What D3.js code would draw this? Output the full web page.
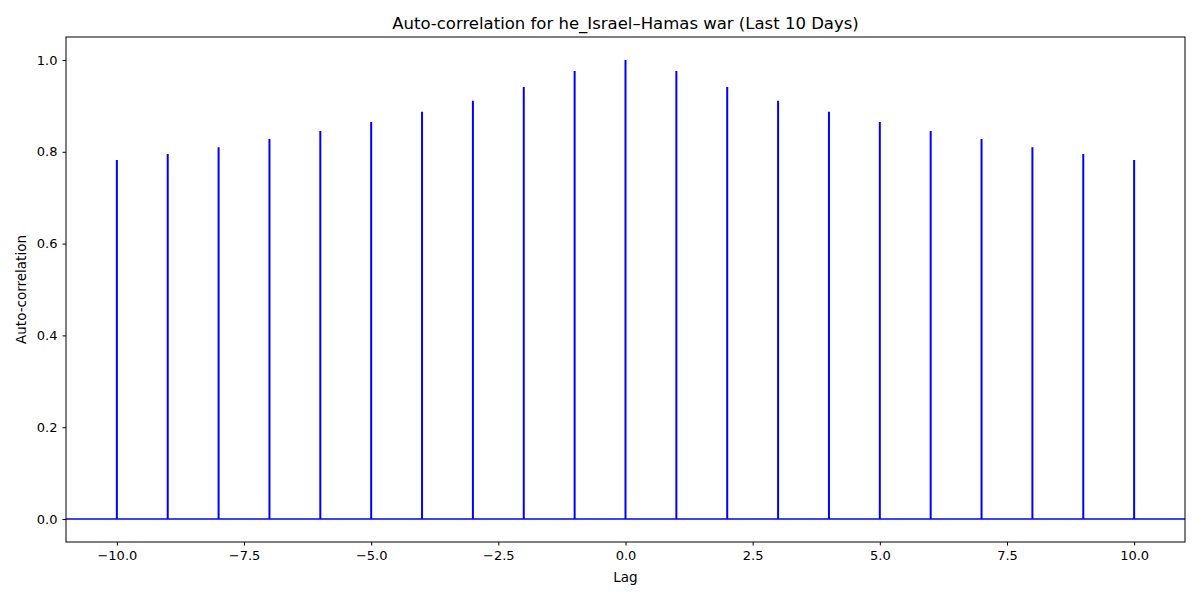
<!DOCTYPE html>
<html><head><meta charset="utf-8">
<script src="https://cdn.jsdelivr.net/npm/d3@7"></script>
<style>body{margin:0;background:#fff}text{font-family:"DejaVu Sans",sans-serif}</style>
</head><body><svg id="c" width="1200" height="600"></svg>
<script>
const lags = [-10,-9,-8,-7,-6,-5,-4,-3,-2,-1,0,1,2,3,4,5,6,7,8,9,10];
const acorr = [0.782,0.795,0.810,0.828,0.845,0.865,0.887,0.911,0.941,0.976,1.0,0.976,0.941,0.911,0.887,0.865,0.845,0.828,0.810,0.795,0.782];
const xTicks = [-10,-7.5,-5,-2.5,0,2.5,5,7.5,10];
const yTicks = [0,0.2,0.4,0.6,0.8,1.0];
const title = "Auto-correlation for he_Israel–Hamas war (Last 10 Days)";

const svg = d3.select("#c");
const L=66,R=1185,T=37,B=542;
const x = d3.scaleLinear().domain([-11,11]).range([L,R]);
const y = d3.scaleLinear().domain([-0.05,1.05]).range([B,T]);
const fmt = v => d3.format(".1f")(v).replace("-","\u2212");

svg.selectAll(".stem").data(lags).join("line")
  .attr("x1",d=>x(d)).attr("x2",d=>x(d))
  .attr("y1",y(0)).attr("y2",(d,i)=>y(acorr[i]))
  .attr("stroke","blue").attr("stroke-width",2);
svg.append("line").attr("x1",L).attr("x2",R).attr("y1",y(0)).attr("y2",y(0))
  .attr("stroke","blue").attr("stroke-width",1.5);

const gx = svg.append("g").attr("transform",`translate(0,${B})`)
  .call(d3.axisBottom(x).tickValues(xTicks).tickFormat(fmt).tickSize(3.5).tickPadding(5));
const gy = svg.append("g").attr("transform",`translate(${L},0)`)
  .call(d3.axisLeft(y).tickValues(yTicks).tickFormat(fmt).tickSize(3.5).tickPadding(5));
[gx,gy].forEach(g=>{g.select(".domain").remove();g.selectAll("text").attr("font-size",13).attr("fill","#000").style("font-family","DejaVu Sans");g.selectAll("line").attr("stroke","#000");});
svg.append("rect").attr("x",L).attr("y",T).attr("width",R-L).attr("height",B-T)
  .attr("fill","none").attr("stroke","#000").attr("stroke-width",1);

svg.append("text").attr("x",(L+R)/2).attr("y",29).attr("text-anchor","middle").attr("font-size",16.5).text(title);
svg.append("text").attr("x",(L+R)/2).attr("y",582).attr("text-anchor","middle").attr("font-size",13.5).text("Lag");
svg.append("text").attr("transform",`translate(26,${(T+B)/2}) rotate(-90)`).attr("text-anchor","middle").attr("font-size",13.5).text("Auto-correlation");
</script></body></html>
